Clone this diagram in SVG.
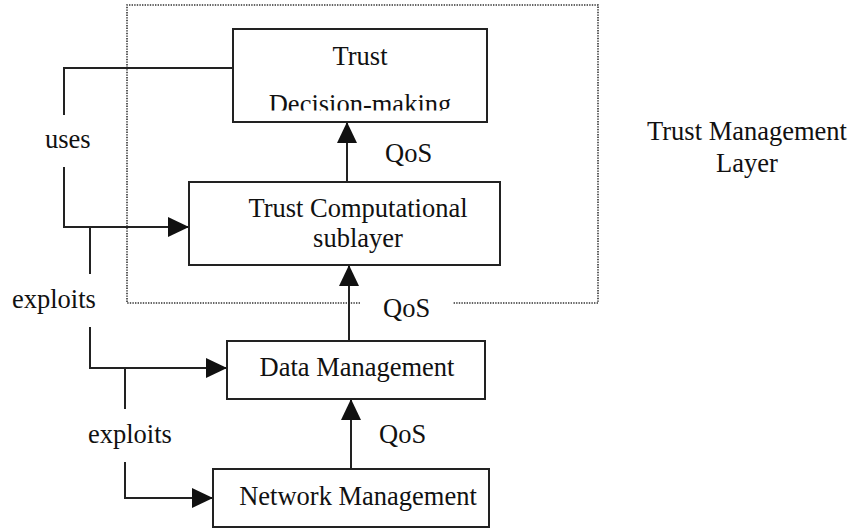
<svg xmlns="http://www.w3.org/2000/svg" width="853" height="531" viewBox="0 0 853 531">
<style>
text{font-family:"Liberation Serif","Times New Roman",serif;font-size:26.5px;fill:#111}
.c{text-anchor:middle}
.box{fill:#fff;stroke:#222;stroke-width:2}
.ln{fill:none;stroke:#222;stroke-width:2}
.dot{fill:none;stroke:#333;stroke-width:1.6;stroke-dasharray:1.4 1.2}
</style>
<defs>
<marker id="ah" markerWidth="22" markerHeight="20" refX="21" refY="10" orient="auto" markerUnits="userSpaceOnUse">
<path d="M0,0 L21,10 L0,20 Z" fill="#111"/>
</marker>
<clipPath id="clipdm"><rect x="233" y="29" width="254" height="81.5"/></clipPath>
</defs>
<g id="layer-boundary">
<path class="dot" d="M360,303 H127 V5 H598 V303 H453"/>
</g>
<g id="connectors">
<path class="ln" d="M233,68 H64 V115"/>
<path class="ln" d="M64,167 V227 H189" marker-end="url(#ah)"/>
<path class="ln" d="M90,227 V274"/>
<path class="ln" d="M90,327 V368 H227" marker-end="url(#ah)"/>
<path class="ln" d="M125,368 V409"/>
<path class="ln" d="M125,462 V498 H213" marker-end="url(#ah)"/>
<path class="ln" d="M347,182 V122" marker-end="url(#ah)"/>
<path class="ln" d="M349,341 V265" marker-end="url(#ah)"/>
<path class="ln" d="M351,469 V399" marker-end="url(#ah)"/>
<text x="45" y="148">uses</text>
<text x="12" y="308">exploits</text>
<text x="88" y="443">exploits</text>
<text x="385" y="162">QoS</text>
<text x="383" y="317">QoS</text>
<text x="379" y="443">QoS</text>
</g>
<g id="trust-decision-making">
<rect class="box" x="233" y="29" width="254" height="93"/>
<text class="c" x="360" y="65">Trust</text>
<text class="c" x="360" y="113" clip-path="url(#clipdm)">Decision-making</text>
</g>
<g id="trust-computational">
<rect class="box" x="189" y="182" width="311" height="83"/>
<text class="c" x="358" y="217">Trust Computational</text>
<text class="c" x="358" y="247">sublayer</text>
</g>
<g id="data-management">
<rect class="box" x="227" y="341" width="258" height="58"/>
<text class="c" x="357" y="376">Data Management</text>
</g>
<g id="network-management">
<rect class="box" x="213" y="469" width="276" height="58"/>
<text class="c" x="358" y="505">Network Management</text>
</g>
<g id="trust-management-layer">
<text class="c" x="747" y="140">Trust Management</text>
<text class="c" x="747" y="172">Layer</text>
</g>
</svg>
